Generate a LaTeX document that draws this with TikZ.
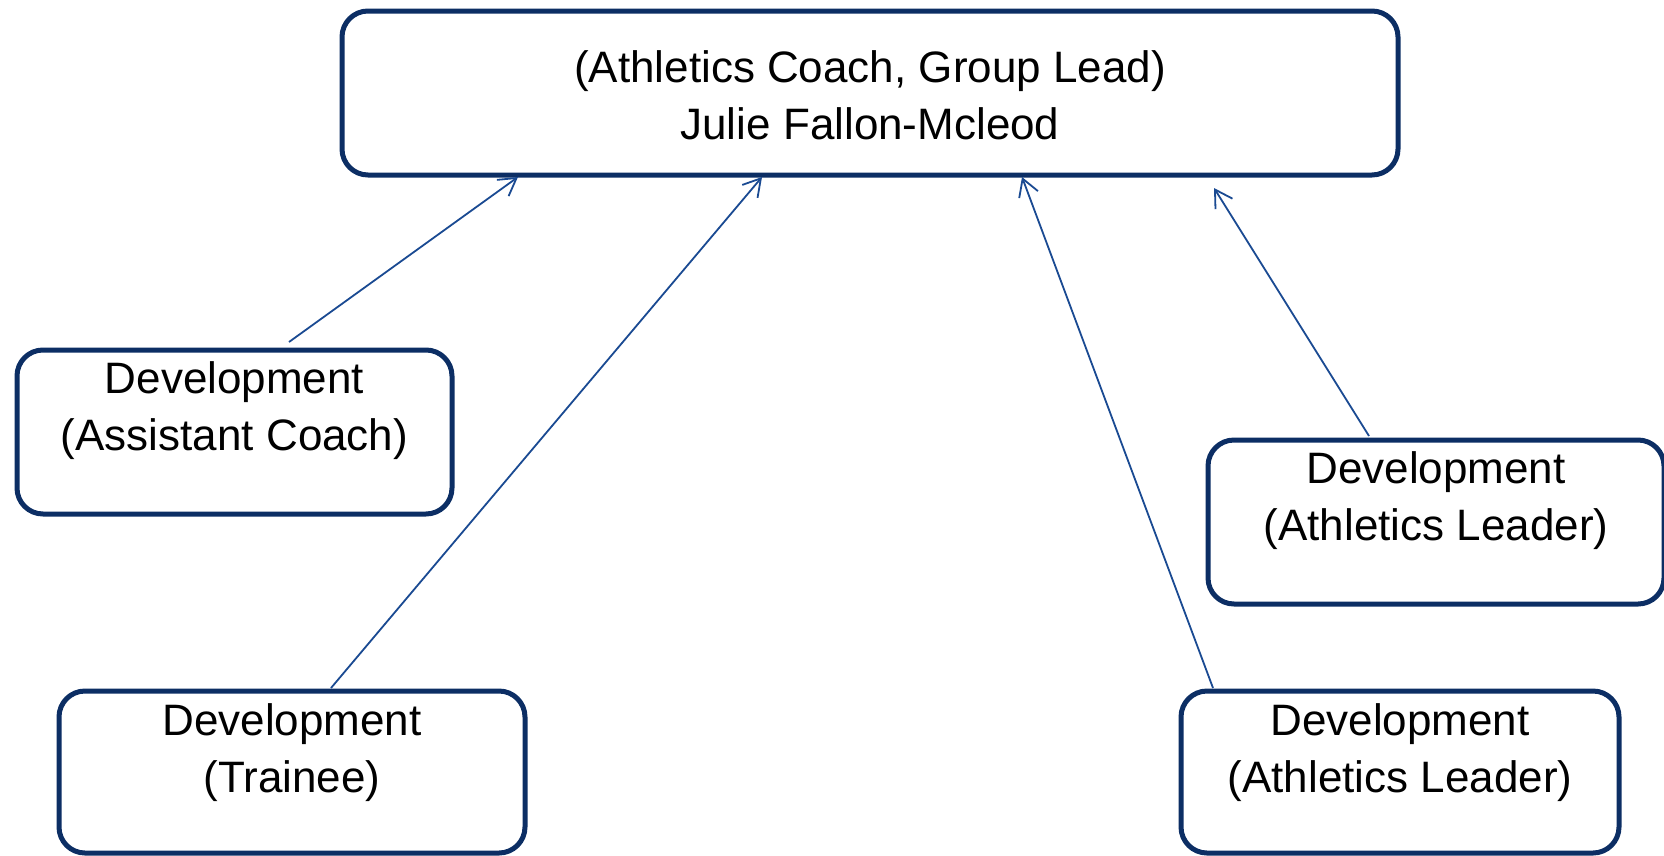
\documentclass[tikz,border=0pt]{standalone}
\usepackage{fontspec}
\setmainfont{Liberation Sans}
\usetikzlibrary{arrows.meta}
\definecolor{navy}{RGB}{12,46,100}
\definecolor{linkblue}{RGB}{26,74,146}
\newcommand\mybox[4]{\parbox[t][#2pt][t]{#1pt}{\centering\fontsize{44pt}{57pt}\selectfont\rule{0pt}{#3pt}#4}}
\tikzset{
  box/.style={draw=navy, line width=5pt, rounded corners=26pt, inner sep=0pt, outer sep=0pt, fill=white, anchor=north west},
  conn/.style={draw=linkblue, line width=1.8pt, -{Straight Barb[length=17pt,width=20pt,line width=1.8pt]}}
}
\begin{document}
\begin{tikzpicture}[x=1pt,y=-1pt]
\useasboundingbox (0,0) rectangle (1664,855);
\node[box] (top) at (342,11) {\mybox{1056}{164}{71}{(Athletics Coach, Group Lead)\\Julie Fallon-Mcleod}};
\node[box] (ac) at (17,350) {\mybox{435}{164}{43}{Development\\(Assistant Coach)}};
\node[box] (tr) at (59,691) {\mybox{466}{162}{44}{Development\\(Trainee)}};
\node[box] (bal) at (1181,691) {\mybox{438}{162}{44}{Development\\(Athletics Leader)}};
\node[box] (ral) at (1208,440) {\mybox{456}{164}{43}{Development\\(Athletics Leader)}};
\draw[conn] ([xshift=54.5pt,yshift=8pt]ac.north) -- ([xshift=-352pt,yshift=-2pt]top.south);
\draw[conn] ([xshift=39pt,yshift=3pt]tr.north) -- ([xshift=-108pt,yshift=-2pt]top.south);
\draw[conn] ([xshift=-187pt,yshift=3pt]bal.north) -- ([xshift=152pt,yshift=-2pt]top.south);
\draw[conn] ([xshift=-67pt,yshift=4pt]ral.north) -- ([xshift=344pt,yshift=-13pt]top.south);
\end{tikzpicture}
\end{document}
